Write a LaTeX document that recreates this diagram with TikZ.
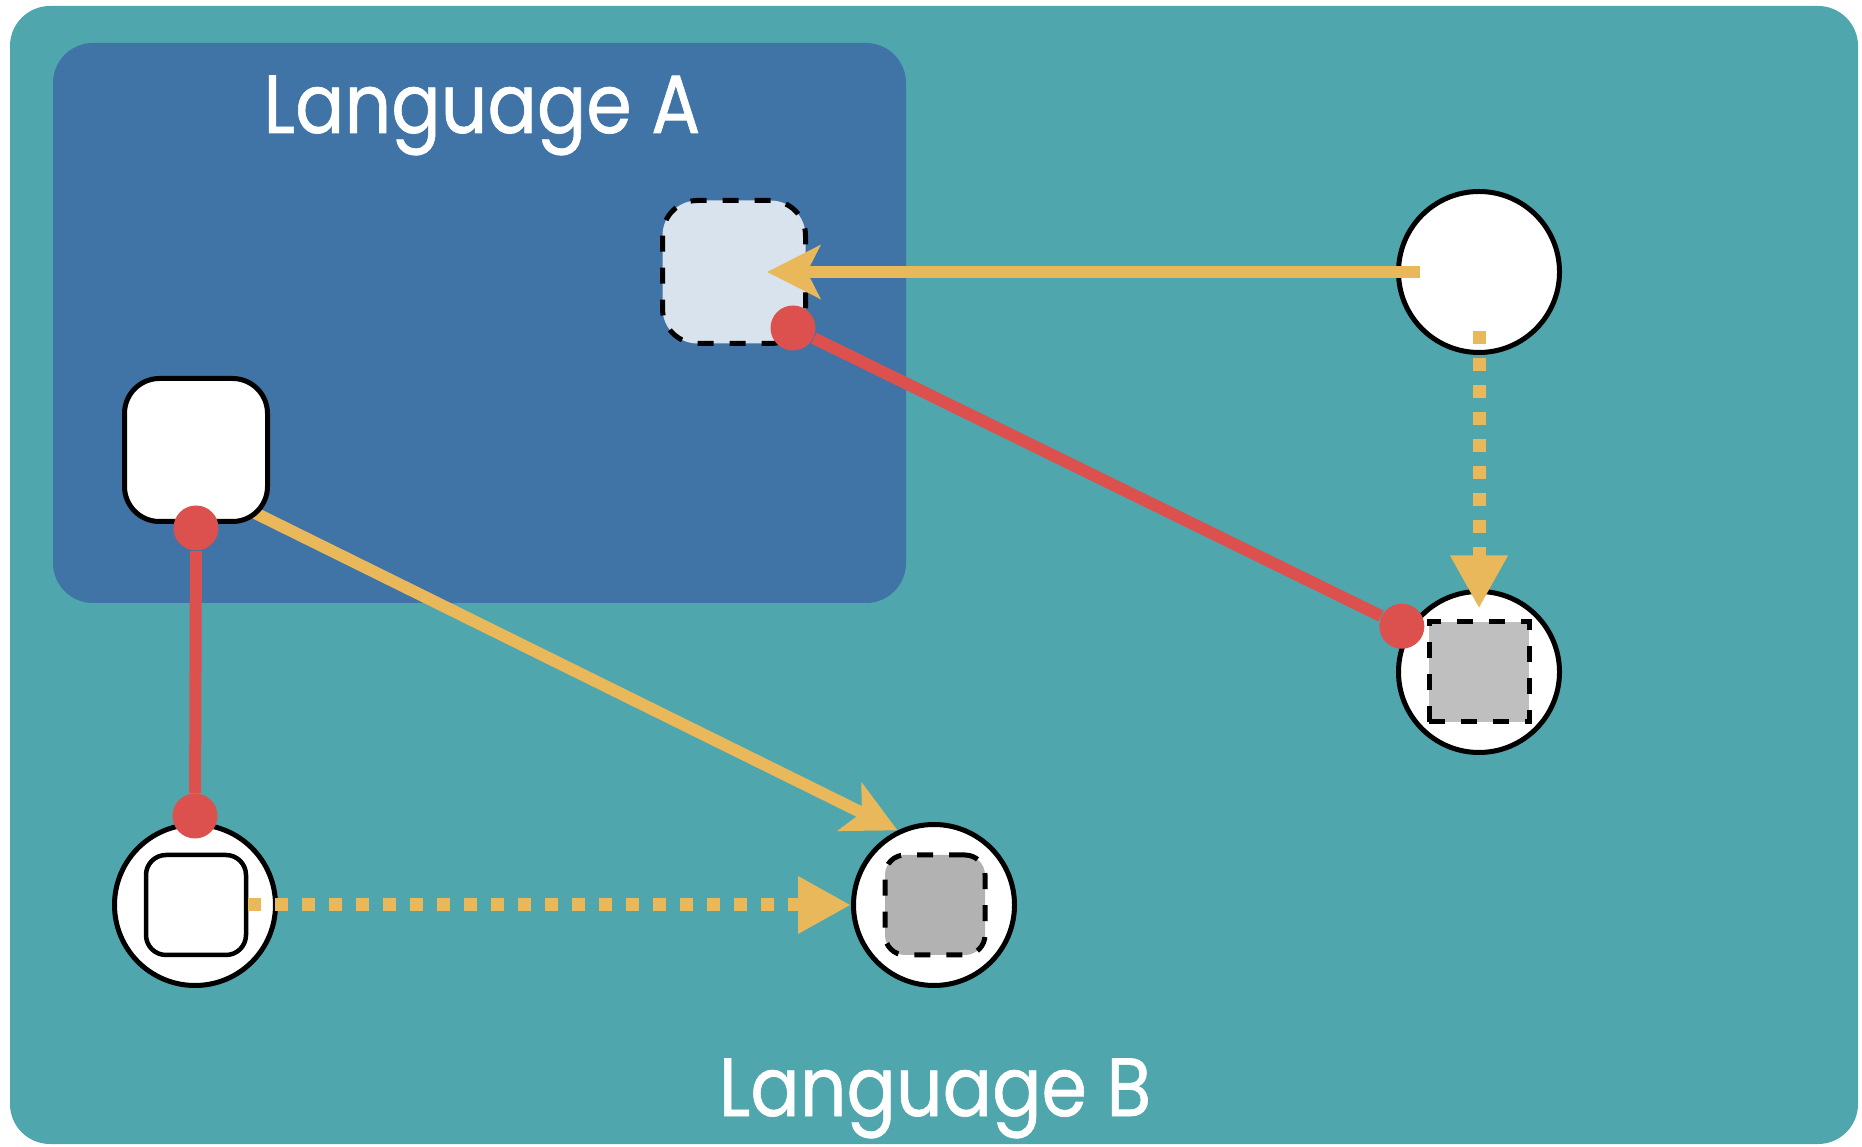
\documentclass[tikz,border=0pt]{standalone}
\usepackage{fontspec}
\setmainfont{Poppins}
\newfontfamily\titlefont{Poppins}[BoldFont=Poppins,BoldFeatures={FakeBold=0.8}]
\usetikzlibrary{arrows.meta}
\definecolor{langB}{HTML}{4FA6AD}
\definecolor{langA}{HTML}{4073A6}
\definecolor{paleA}{HTML}{D9E3ED}
\definecolor{ylw}{HTML}{E8B85A}
\definecolor{rd}{HTML}{DC504E}
\definecolor{grayA}{HTML}{B2B2B2}
\definecolor{grayB}{HTML}{BFBFBF}
\pgfdeclarelayer{bg}
\pgfsetlayers{bg,main}

\begin{document}
\begin{tikzpicture}[
    title/.style={anchor=base,text=white,font=\titlefont\bfseries\fontsize{23.5}{28}\selectfont},
    box/.style={rectangle,draw=black,line width=0.05cm,fill=white,minimum size=1.43cm,inner sep=0pt,rounded corners=0.35cm},
    ring/.style={circle,draw=black,line width=0.05cm,fill=white,minimum size=1.61cm,inner sep=0pt},
    inbox/.style={rectangle,draw=black,line width=0.05cm,minimum size=1.0cm,inner sep=0pt},
    ghost/.style={dash pattern=on 0.16cm off 0.16cm},
    dot/.style={circle,fill=rd,minimum size=0.45cm,inner sep=0pt}]
   \useasboundingbox (0,0) rectangle (18.62,11.46);
   \begin{pgfonlayer}{bg}
    \fill[langB,rounded corners=0.4cm] (0.10,0.02) rectangle (18.58,11.40);
    \fill[langA,rounded corners=0.4cm] (0.53,5.43) rectangle (9.06,11.03);
   \end{pgfonlayer}
   \node[title] (titleA) at (4.82,10.13) {\scalebox{0.885}[1]{Language A}};
   \node[title] (titleB) at (9.35,0.30) {\scalebox{0.885}[1]{Language B}};
   % language A
   \node[box] (a1) at (1.96,6.96) {};
   \node[box,ghost,fill=paleA] (a2) at (7.34,8.74) {};
   % language B
   \node[ring] (c1) at (14.79,8.74) {};
   \node[ring] (c2) at (14.79,4.74) {};
   \node[inbox,ghost,fill=grayB] (s2) at (14.79,4.74) {};
   \node[ring] (c3) at (1.95,2.41) {};
   \node[inbox,fill=white,line width=0.045cm,rounded corners=0.2cm] (s3) at (1.96,2.41) {};
   \node[ring] (c4) at (9.34,2.41) {};
   \node[inbox,ghost,fill=grayA,rounded corners=0.2cm] (s4) at (9.35,2.41) {};
   % dots
   \node[dot] (d1) at ([yshift=-0.04cm]a1.south) {};
   \node[dot] (d2) at ([yshift=0.06cm]c3.north) {};
   \node[dot] (d3) at ([shift={(-0.15,0.18)}]a2.south east) {};
   \node[dot] (d4) at ([shift={(-0.06,0.03)}]c2.149) {};
   \begin{scope}[every edge/.style={draw=ylw,line width=0.12cm,-{Stealth[length=0.53cm,width=0.53cm,inset=0.13cm]}}]
    \begin{pgfonlayer}{bg}
     \draw ([shift={(-0.15,0.11)}]a1.south east) edge (c4.116);
    \end{pgfonlayer}
    \draw (c1.center) edge[shorten <=0.59cm,shorten >=0.33cm] (a2.center);
   \end{scope}
   \begin{scope}[every edge/.style={draw=ylw,line width=0.13cm,dash pattern=on 0.13cm off 0.14cm,-{Triangle[length=0.53cm,width=0.54cm]}}]
    \draw (s3.east) edge (c4.west);
    \draw (c1.center) edge[shorten <=0.59cm] ([yshift=0.11cm]s2.north);
   \end{scope}
   \begin{scope}[every edge/.style={draw=rd,line width=0.12cm}]
    \draw (d1) edge (d2);
    \draw (d3) edge (d4);
   \end{scope}
\end{tikzpicture}
\end{document}
